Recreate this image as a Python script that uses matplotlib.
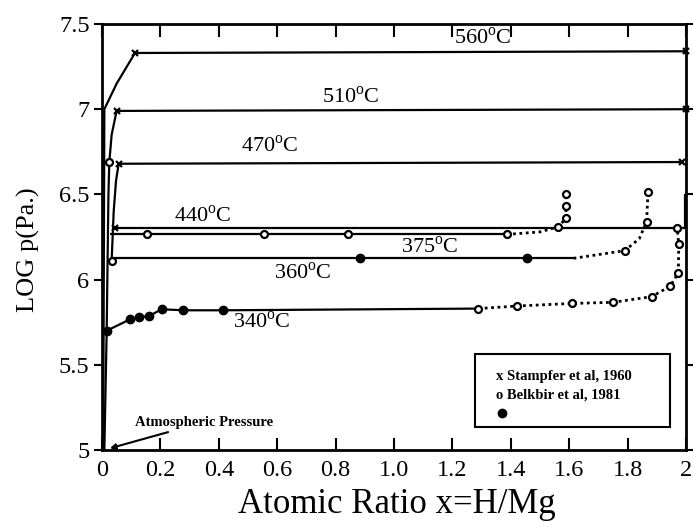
import matplotlib
matplotlib.use('Agg')
import matplotlib.pyplot as plt
from matplotlib.patches import Rectangle

plt.rcParams['font.family'] = ['Liberation Serif', 'DejaVu Serif']

# isotherms: x = H/Mg, y = log p (Pa)
x_560 = [0.004, 0.008, 0.05, 0.113, 2.0]
y_560 = [5.0, 7.0, 7.15, 7.33, 7.34]
x_510 = [0.016, 0.022, 0.025, 0.033, 0.05, 2.0]
y_510 = [5.70, 6.50, 6.69, 6.85, 6.99, 7.0]
x_470 = [0.033, 0.04, 0.048, 0.057, 1.985]
y_470 = [6.11, 6.40, 6.58, 6.68, 6.69]
x_440 = [0.045, 1.995, 1.995]
y_440 = [6.30, 6.30, 6.50]

x_375 = [0.027, 1.386]
y_375 = [6.265, 6.265]
x_375_dot = [1.386, 1.50, 1.563, 1.589, 1.589, 1.589]
y_375_dot = [6.265, 6.28, 6.31, 6.36, 6.43, 6.505]

x_360 = [0.033, 1.615]
y_360 = [6.125, 6.125]
x_360_dot = [1.615, 1.79, 1.84, 1.865, 1.87]
y_360_dot = [6.125, 6.17, 6.24, 6.34, 6.515]

x_340 = [0.008, 0.016, 0.096, 0.128, 0.161, 0.204, 0.279, 0.413, 1.289]
y_340 = [5.0, 5.70, 5.767, 5.78, 5.786, 5.826, 5.82, 5.82, 5.83]
x_340_dot = [1.289, 1.42, 1.608, 1.751, 1.882, 1.945, 1.974, 1.975, 1.97]
y_340_dot = [5.83, 5.845, 5.86, 5.867, 5.90, 5.96, 6.04, 6.21, 6.30]

# data points by source
stampfer_x = [0.113, 2.0, 0.05, 2.0, 0.057, 1.985, 0.045]
stampfer_y = [7.33, 7.34, 6.99, 7.0, 6.68, 6.69, 6.30]
belkbir_x = [0.024, 1.97, 0.153, 0.556, 0.843, 1.386, 1.563, 1.589, 1.589, 1.589,
             0.033, 1.79, 1.865, 1.87,
             1.289, 1.42, 1.608, 1.751, 1.882, 1.945, 1.974, 1.975]
belkbir_y = [6.69, 6.30, 6.265, 6.265, 6.265, 6.265, 6.31, 6.36, 6.43, 6.505,
             6.11, 6.17, 6.34, 6.515,
             5.83, 5.845, 5.86, 5.867, 5.90, 5.96, 6.04, 6.21]
filled_x = [0.884, 1.454, 0.016, 0.096, 0.128, 0.161, 0.204, 0.279, 0.413]
filled_y = [6.125, 6.125, 5.70, 5.767, 5.78, 5.786, 5.826, 5.82, 5.82]

labels = ['560$^{\\rm o}$C', '510$^{\\rm o}$C', '470$^{\\rm o}$C', '440$^{\\rm o}$C',
          '375$^{\\rm o}$C', '360$^{\\rm o}$C', '340$^{\\rm o}$C']
label_x = [1.305, 0.853, 0.575, 0.346, 1.123, 0.688, 0.548]
label_y = [7.418, 7.07, 6.78, 6.37, 6.19, 6.04, 5.75]

xticks = [0, 0.2, 0.4, 0.6, 0.8, 1.0, 1.2, 1.4, 1.6, 1.8, 2.0]
xticklabels = ['0', '0.2', '0.4', '0.6', '0.8', '1.0', '1.2', '1.4', '1.6', '1.8', '2']
yticks = [5, 5.5, 6, 6.5, 7, 7.5]
yticklabels = ['5', '5.5', '6', '6.5', '7', '7.5']

plt.rcParams['mathtext.fontset'] = 'custom'
plt.rcParams['mathtext.rm'] = 'Liberation Serif'

fig = plt.figure(figsize=(6.93, 5.30), dpi=100)
ax = fig.add_axes([0.1472, 0.1509, 0.8427, 0.8038])

lw = 1.6
dot = (0, (1, 1.3))
for xs, ys in [(x_560, y_560), (x_510, y_510), (x_470, y_470), (x_440, y_440),
               (x_375, y_375), (x_360, y_360), (x_340, y_340)]:
    ax.plot(xs, ys, color='black', lw=lw, solid_capstyle='butt')
for xs, ys in [(x_375_dot, y_375_dot), (x_360_dot, y_360_dot), (x_340_dot, y_340_dot)]:
    ax.plot(xs, ys, color='black', lw=2.0, linestyle=dot)

ax.plot(stampfer_x, stampfer_y, 'x', color='black', ms=5, mew=1.6, clip_on=False)
ax.plot(belkbir_x, belkbir_y, 'o', mfc='white', mec='black', ms=5, mew=1.6, clip_on=False)
ax.plot(filled_x, filled_y, 'o', color='black', ms=6, clip_on=False)

for t, lx, ly in zip(labels, label_x, label_y):
    ax.text(lx, ly, t, fontsize=16, ha='center', va='center')

ax.annotate('Atmospheric Pressure', xy=(0.027, 5.01), xytext=(0.113, 5.164),
            fontsize=10.5, fontweight='bold', va='center', ha='left',
            arrowprops=dict(arrowstyle='-|>', color='black', lw=1.5,
                            mutation_scale=8, shrinkA=2, shrinkB=0))

# legend box drawn by hand, as in the original
ax.add_patch(Rectangle((1.277, 5.137), 0.668, 0.426, fill=False, lw=1.5, ec='black'))
ax.text(1.349, 5.434, 'x Stampfer et al, 1960', fontsize=10.5, fontweight='bold', va='center')
ax.text(1.349, 5.323, 'o Belkbir et al, 1981', fontsize=10.5, fontweight='bold', va='center')
ax.plot([1.369], [5.215], 'o', color='black', ms=6)

ax.set_xlim(0, 2.0)
ax.set_ylim(5, 7.5)
ax.set_xticks(xticks)
ax.set_xticklabels(xticklabels, fontsize=17.5)
ax.set_yticks(yticks)
ax.set_yticklabels(yticklabels, fontsize=17.5)
ax.tick_params(axis='x', direction='in', top=True, length=9, width=1.5, pad=7)
ax.tick_params(axis='y', direction='out', right=True, length=6, width=1.5, pad=3)
for s in ax.spines.values():
    s.set_linewidth(2)

ax.set_xlabel('Atomic Ratio x=H/Mg', fontsize=25)
ax.xaxis.set_label_coords(0.505, -0.09)
ax.set_ylabel('LOG p(Pa.)', fontsize=19)
ax.yaxis.set_label_coords(-0.106, 0.47)

fig.savefig('out.png', dpi=100)
